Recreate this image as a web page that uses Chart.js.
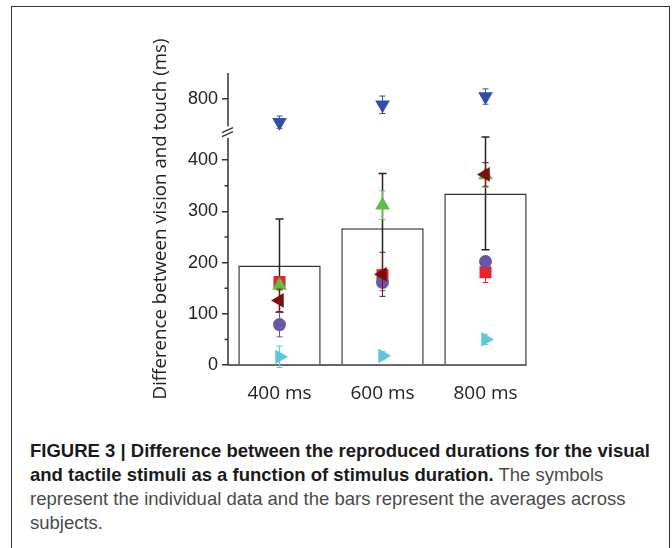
<!DOCTYPE html>
<html>
<head>
<meta charset="utf-8">
<script src="https://cdn.jsdelivr.net/npm/chart.js@4.4.1/dist/chart.umd.min.js"></script>
<style>
    html, body { margin: 0; padding: 0; background: #fff; }
    body { width: 672px; height: 548px; position: relative; overflow: hidden; }
    #frame { position: absolute; left: 11px; top: 6px; width: 659px; height: 600px;
             border: 1.5px solid #333; box-sizing: border-box; }
    #chart { position: absolute; left: 0; top: 0; }
    #caption { position: absolute; left: 30px; top: 439px; white-space: nowrap;
               font-family: 'Liberation Sans', Arial, sans-serif; font-size: 18.5px;
               line-height: 24px; color: #4a4a4a; }
    #caption b { color: #1a1a1a; }
</style>
</head>
<body>
<div id="frame"></div>
<canvas id="chart" width="672" height="420"></canvas>
<div id="caption">
    <b>FIGURE 3 | Difference between the reproduced durations for the visual</b><br>
    <b>and tactile stimuli as a function of stimulus duration.</b> The symbols<br>
    represent the individual data and the bars represent the averages across<br>
    subjects.
</div>
<script>
// Dữ liệu
const categories = ['400 ms', '600 ms', '800 ms'];
const meanDiff = [194, 267, 335];
const meanErr = [91, 107, 110];
const yTickValues = [0, 100, 200, 300, 400, 800];
const minorTickValues = [50, 150, 250, 350];

// từng người tham gia
const subjBlue = [754, 788, 804];
const subjBlueErr = [12, 17, 15];
const subjDarkRed = [126, 177, 372];
const subjDarkRedErr = [22, 43, 23];
const subjGreen = [155, 312, 371];
const subjGreenErr = [10, 28, 24];
const subjPurple = [79, 161, 202];
const subjPurpleErr = [24, 16, 10];
const subjRed = [162, 175, 181];
const subjRedErr = [8, 12, 20];
const subjCyan = [16, 18, 50];
const subjCyanErr = [21, 8, 10];

// trục y bị ngắt: giá trị trên 600 được dời xuống
const BREAK_SHIFT = 280;
const LOWER_TOP = 443;   // đỉnh đoạn dưới của trục
const UPPER_BOTTOM = 746; // đáy đoạn trên của trục

function toAxis(v) { return v > 600 ? v - BREAK_SHIFT : v; }
function fromAxis(v) { return v > 440 ? v + BREAK_SHIFT : v; }

// Vẽ thanh sai số
function drawErrors(chart, index, color, width, cap) {
    const ds = chart.data.datasets[index];
    const meta = chart.getDatasetMeta(index);
    const y = chart.scales.y;
    const ctx = chart.ctx;
    ctx.save();
    ctx.strokeStyle = color;
    ctx.lineWidth = width;
    meta.data.forEach((el, i) => {
        const v = ds.values[i], e = ds.errors[i];
        const top = y.getPixelForValue(toAxis(v + e));
        const bot = y.getPixelForValue(toAxis(v - e));
        ctx.beginPath();
        ctx.moveTo(el.x, top); ctx.lineTo(el.x, bot);
        ctx.moveTo(el.x - cap, top); ctx.lineTo(el.x + cap, top);
        ctx.moveTo(el.x - cap, bot); ctx.lineTo(el.x + cap, bot);
        ctx.stroke();
    });
    ctx.restore();
}

const errorBars = {
    id: 'errorBars',
    beforeDatasetDraw(chart, args) {
        const ds = chart.data.datasets[args.index];
        if (ds.type === 'bar') return;
        drawErrors(chart, args.index, ds.pointBackgroundColor, 1, 3);
    },
    afterDatasetDraw(chart, args) {
        const ds = chart.data.datasets[args.index];
        if (ds.type !== 'bar') return;
        drawErrors(chart, args.index, '#222', 1.5, 4);
    }
};

// Trục y có ngắt, vạch phụ và trục x
const brokenAxis = {
    id: 'brokenAxis',
    beforeDatasetsDraw(chart) {
        const { ctx, chartArea, scales: { y } } = chart;
        const x0 = chartArea.left;
        ctx.save();
        ctx.strokeStyle = '#333';
        ctx.lineWidth = 1.5;
        ctx.beginPath();
        ctx.moveTo(x0, y.getPixelForValue(0));
        ctx.lineTo(x0, y.getPixelForValue(LOWER_TOP));
        ctx.moveTo(x0, y.getPixelForValue(toAxis(UPPER_BOTTOM)));
        ctx.lineTo(x0, chartArea.top);
        minorTickValues.forEach(v => {
            const py = y.getPixelForValue(v);
            ctx.moveTo(x0, py); ctx.lineTo(x0 - 3.5, py);
        });
        // trục x đến mép phải cột cuối
        const bars = chart.getDatasetMeta(0).data;
        const last = bars[bars.length - 1];
        ctx.moveTo(x0, chartArea.bottom);
        ctx.lineTo(last.x + last.width / 2, chartArea.bottom);
        ctx.stroke();

        // dấu ngắt //
        const yc = (y.getPixelForValue(LOWER_TOP) + y.getPixelForValue(toAxis(UPPER_BOTTOM))) / 2;
        ctx.lineWidth = 1.2;
        ctx.beginPath();
        ctx.moveTo(x0 - 6, yc + 0.5); ctx.lineTo(x0 + 5, yc - 4.5);
        ctx.moveTo(x0 - 6, yc + 4.5); ctx.lineTo(x0 + 5, yc - 0.5);
        ctx.stroke();
        ctx.restore();
    }
};

function subject(values, errors, color, rotation, style, radius) {
    return {
        type: 'line',
        data: values.map(toAxis),
        values: values,
        errors: errors,
        showLine: false,
        pointStyle: style,
        pointRotation: rotation,
        pointRadius: radius,
        pointBackgroundColor: color,
        pointBorderColor: color,
        pointBorderWidth: 0,
        order: 0
    };
}

new Chart(document.getElementById('chart'), {
    type: 'bar',
    data: {
        labels: categories,
        datasets: [
            {
                type: 'bar',
                data: meanDiff.map(toAxis),
                values: meanDiff,
                errors: meanErr,
                backgroundColor: '#fff',
                borderColor: '#333',
                borderWidth: 1.5,
                barPercentage: 0.8,
                categoryPercentage: 1.0,
                order: 1
            },
            subject(subjBlue, subjBlueErr, '#2f4fa6', 180, 'triangle', 8.5),
            subject(subjDarkRed, subjDarkRedErr, '#7e0e0e', 270, 'triangle', 8.5),
            subject(subjGreen, subjGreenErr, '#62bd45', 0, 'triangle', 8.5),
            subject(subjPurple, subjPurpleErr, '#6a55a8', 0, 'circle', 6.5),
            subject(subjRed, subjRedErr, '#e8232c', 0, 'rect', 8.5),
            subject(subjCyan, subjCyanErr, '#5ec6da', 90, 'triangle', 8.5)
        ]
    },
    options: {
        responsive: false,
        animation: false,
        devicePixelRatio: 1,
        layout: { padding: { top: 73, left: 146, right: 135, bottom: 15 } },
        plugins: { legend: { display: false }, tooltip: { enabled: false } },
        scales: {
            x: {
                offset: true,
                grid: { display: false, drawTicks: false },
                border: { display: false },
                ticks: { color: '#222', font: { family: 'Open Sans', size: 19 }, padding: 17 },
                afterFit(s) { s.height = 40; }
            },
            y: {
                min: 0,
                max: 570,
                afterBuildTicks(s) {
                    s.ticks = yTickValues.map(v => ({ value: toAxis(v) }));
                },
                ticks: {
                    callback: v => String(fromAxis(v)),
                    color: '#222',
                    font: { family: 'Liberation Sans', size: 18 },
                    padding: 4
                },
                grid: { drawOnChartArea: false, drawTicks: true, tickLength: 6, color: '#333', lineWidth: 1.5 },
                border: { display: false },
                title: {
                    display: true,
                    text: 'Difference between vision and touch (ms)',
                    color: '#222',
                    font: { family: 'Open Sans', size: 18.7 },
                    padding: { top: 3, bottom: 4 }
                },
                afterFit(s) { s.width = 82; }
            }
        }
    },
    plugins: [errorBars, brokenAxis]
});
</script>
</body>
</html>
